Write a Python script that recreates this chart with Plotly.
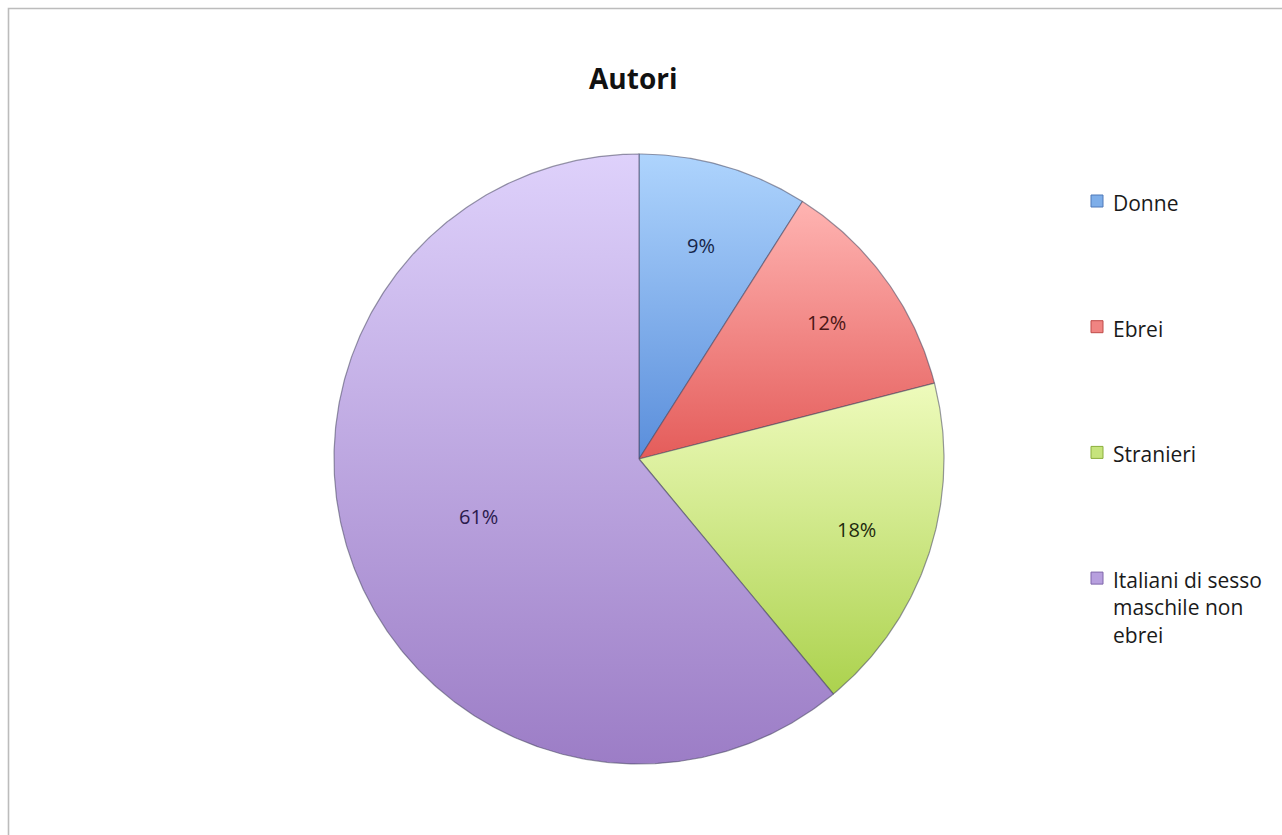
import textwrap
import numpy as np
import plotly.graph_objects as go

# ---- data -------------------------------------------------------------
categories = ["Donne", "Ebrei", "Stranieri", "Italiani di sesso maschile non ebrei"]
shares = [9, 12, 18, 61]          # percent
title_text = "Autori"

# ---- style ------------------------------------------------------------
W, H = 1282, 835
CX, CY, R = 639, 459, 305          # pie centre / radius in page pixels
FONT = "Open Sans"
top_colors = ["#aed4fd", "#ffb4b2", "#eefbbc", "#ded1fb"]
bottom_colors = ["#5a8edb", "#e45c5a", "#acd24e", "#9c7dc6"]
label_colors = ["#16264a", "#4a1616", "#1e2a0e", "#2a1a4c"]
mid_colors = ["#7eaee9", "#f08482", "#c6e47c", "#b79fde"]
edge_colors = ["#4f78b8", "#bf4a48", "#8aae3c", "#7f65aa"]
LABEL_RADIUS = [0.73, 0.76, 0.75, 0.56]
LEGEND_X, LEGEND_Y0, LEGEND_STEP = 1097, 201, 125.7
LEGEND_FONT = 21
LINE_H = 28

fig = go.Figure()

total = float(sum(shares))
cum = np.concatenate([[0.0], np.cumsum(shares)]) / total


def to_xy(theta, radius):
    """Angle clockwise from 12 o'clock -> page pixel coordinates (y down)."""
    return CX + radius * np.sin(theta), CY - radius * np.cos(theta)


annotations = []
for i, name in enumerate(categories):
    a0, a1 = 2 * np.pi * cum[i], 2 * np.pi * cum[i + 1]
    n = max(int(np.degrees(a1 - a0) * 2), 8)
    th = np.linspace(a0, a1, n)
    ax, ay = to_xy(th, R)
    xs = np.concatenate([[CX], ax, [CX]])
    ys = np.concatenate([[CY], ay, [CY]])
    fig.add_trace(go.Scatter(
        x=xs, y=ys, mode="lines", fill="toself",
        line=dict(color="rgba(70,70,95,0.55)", width=1.2),
        fillgradient=dict(
            type="vertical",
            colorscale=[[0, top_colors[i]], [1, bottom_colors[i]]],
            start=float(ys.min()), stop=float(ys.max()),
        ),
        hoverinfo="skip", showlegend=False, name=name,
    ))
    # percentage label along the slice bisector
    mid = (a0 + a1) / 2
    lx, ly = to_xy(mid, R * LABEL_RADIUS[i])
    annotations.append(dict(
        x=lx, y=ly, xref="x", yref="y", showarrow=False,
        text=f"{round(shares[i] / total * 100)}%",
        font=dict(family=FONT, size=20, color=label_colors[i]),
    ))

# ---- legend drawn by hand ---------------------------------------------
shapes = []
for i, name in enumerate(categories):
    y = LEGEND_Y0 + i * LEGEND_STEP
    shapes.append(dict(
        type="rect", xref="x", yref="y",
        x0=LEGEND_X - 6, x1=LEGEND_X + 6, y0=y - 6, y1=y + 6,
        fillcolor=mid_colors[i], line=dict(color=edge_colors[i], width=1),
    ))
    lines = textwrap.wrap(name, width=17)
    annotations.append(dict(
        x=LEGEND_X + 14, y=y - LINE_H / 2, xref="x", yref="y",
        xanchor="left", yanchor="top", align="left", showarrow=False,
        text="<br>".join(lines),
        font=dict(family=FONT, size=LEGEND_FONT, color="#1a1a1a"),
    ))

# title
annotations.append(dict(
    x=633, y=78, xref="x", yref="y", showarrow=False,
    text=f"<b>{title_text}</b>",
    font=dict(family=FONT, size=28, color="#111111"),
))

# chart-area frame (only top and left edges fall inside the page)
shapes.append(dict(
    type="path", xref="x", yref="y",
    path=f"M 8.5 {H + 20} L 8.5 8.5 L {W + 20} 8.5",
    line=dict(color="#bcbcbc", width=1.6),
))

fig.update_layout(
    width=W, height=H,
    margin=dict(l=0, r=0, t=0, b=0),
    paper_bgcolor="white", plot_bgcolor="white",
    xaxis=dict(range=[0, W], visible=False, fixedrange=True),
    yaxis=dict(range=[H, 0], visible=False, fixedrange=True),
    shapes=shapes, annotations=annotations,
    showlegend=False,
)

fig.write_html("out.html")
